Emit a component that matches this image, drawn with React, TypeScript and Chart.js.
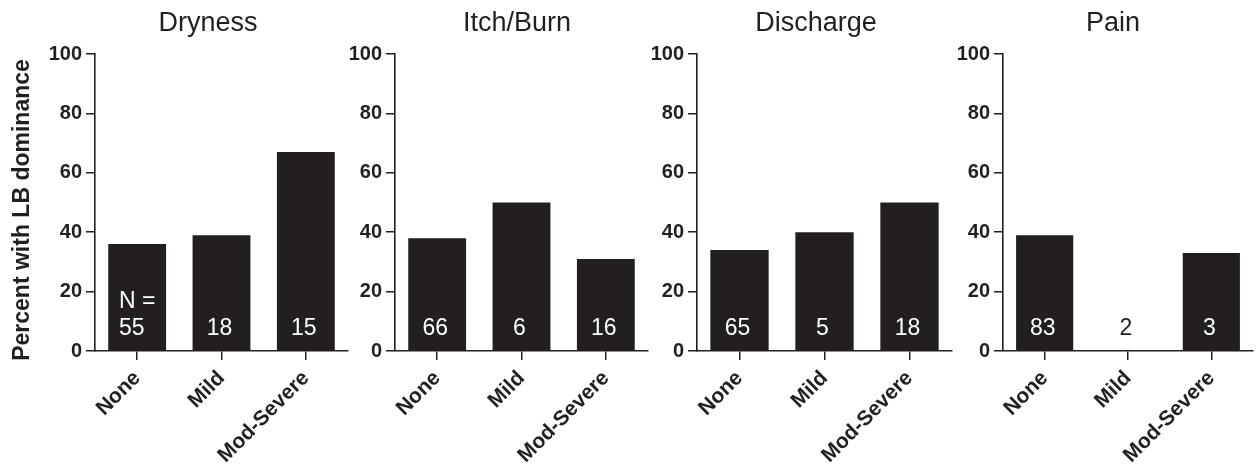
import React, { useEffect, useRef } from "react";
import { Chart, registerables } from "chart.js";

Chart.register(...registerables);

// ---- data ----
const CATEGORIES = ["None", "Mild", "Mod-Severe"];
const PANEL_TITLES = ["Dryness", "Itch/Burn", "Discharge", "Pain"];
const DRYNESS = [36, 39, 67];
const ITCH_BURN = [38, 50, 31];
const DISCHARGE = [34, 40, 50];
const PAIN = [39, 0, 33];
const N_DRYNESS = ["55", "18", "15"];
const N_ITCH_BURN = ["66", "6", "16"];
const N_DISCHARGE = ["65", "5", "18"];
const N_PAIN = ["83", "2", "3"];
const Y_TICKS = [0, 20, 40, 60, 80, 100];
const Y_TITLE = "Percent with LB dominance";
const N_PREFIX = "N =";

// ---- layout / style ----
const W = 1258;
const H = 470;
const AXIS_LEFT = [95, 395, 697, 1003];
const PLOT_W = [253, 253, 255, 250];
const TITLE_CX = [208, 517, 816, 1113];
const Y_TITLE_POS = { x: 23, y: 210 };
const PLOT_TOP = 54;
const PLOT_BOTTOM = 351;
const INK = "#231f20";
const FONT = "'Liberation Sans', Arial, Helvetica, sans-serif";

const SERIES = [DRYNESS, ITCH_BURN, DISCHARGE, PAIN];
const COUNTS = [N_DRYNESS, N_ITCH_BURN, N_DISCHARGE, N_PAIN];

function Panel({ index }: { index: number }) {
  const ref = useRef<HTMLCanvasElement | null>(null);
  const left = index === 0 ? 0 : AXIS_LEFT[index] - 70;
  const yw = AXIS_LEFT[index] - left;
  const rightPad = 4;
  const width = yw + PLOT_W[index] + rightPad;

  useEffect(() => {
    if (!ref.current) return;
    const values = SERIES[index];
    const counts = COUNTS[index];
    const annot = {
      id: "annot" + index,
      afterDatasetsDraw(chart: any) {
        const ctx = chart.ctx;
        const meta = chart.getDatasetMeta(0);
        const y0 = chart.scales.y.getPixelForValue(0);
        ctx.save();
        ctx.font = `23px ${FONT}`;
        ctx.textBaseline = "alphabetic";
        meta.data.forEach((bar: any, i: number) => {
          ctx.fillStyle = values[i] > 10 ? "#ffffff" : INK;
          if (index === 0 && i === 0) {
            const wMax = Math.max(ctx.measureText(N_PREFIX).width, ctx.measureText(counts[i]).width);
            ctx.textAlign = "left";
            ctx.fillText(N_PREFIX, bar.x - wMax / 2, y0 - 43);
            ctx.fillText(counts[i], bar.x - wMax / 2, y0 - 16);
          } else {
            ctx.textAlign = "center";
            ctx.fillText(counts[i], bar.x - 2, y0 - 16);
          }
        });
        // panel title
        ctx.textAlign = "center";
        ctx.font = `27px ${FONT}`;
        ctx.fillStyle = INK;
        ctx.fillText(PANEL_TITLES[index], TITLE_CX[index] - left, 31);
        // y-axis title (first panel only)
        if (index === 0) {
          ctx.save();
          ctx.translate(Y_TITLE_POS.x - left, Y_TITLE_POS.y);
          ctx.rotate(-Math.PI / 2);
          ctx.font = `bold 23px ${FONT}`;
          ctx.textBaseline = "middle";
          ctx.fillText(Y_TITLE, 0, 0);
          ctx.restore();
        }
        ctx.restore();
      },
    };

    const chart = new Chart(ref.current, {
      type: "bar",
      data: {
        labels: CATEGORIES,
        datasets: [
          {
            data: values,
            backgroundColor: INK,
            borderWidth: 0,
            categoryPercentage: 1,
            barPercentage: 0.686,
          },
        ],
      },
      options: {
        animation: false,
        responsive: false,
        maintainAspectRatio: false,
        layout: { padding: { top: PLOT_TOP, right: rightPad, left: 0, bottom: 0 } },
        plugins: { legend: { display: false }, tooltip: { enabled: false }, title: { display: false } },
        scales: {
          x: {
            grid: {
              offset: false,
              drawOnChartArea: false,
              drawTicks: true,
              tickLength: 9,
              color: INK,
              lineWidth: 1.5,
            },
            border: { display: true, color: INK, width: 1.6 },
            ticks: {
              autoSkip: false,
              maxRotation: 45,
              minRotation: 45,
              padding: 6,
              color: INK,
              font: { family: FONT, size: 21, weight: "bold" },
            },
            afterFit(scale: any) {
              scale.height = H - PLOT_BOTTOM;
            },
          },
          y: {
            min: 0,
            max: 100,
            afterBuildTicks(scale: any) {
              scale.ticks = Y_TICKS.map((v) => ({ value: v }));
            },
            grid: {
              drawOnChartArea: false,
              drawTicks: true,
              tickLength: 9,
              color: INK,
              lineWidth: 1.5,
            },
            border: { display: true, color: INK, width: 1.6 },
            ticks: {
              padding: 4,
              color: INK,
              font: { family: FONT, size: 20, weight: "bold" },
            },
            afterFit(scale: any) {
              scale.width = yw;
            },
          },
        },
      },
      plugins: [annot],
    } as any);
    return () => chart.destroy();
  }, [index]);

  return (
    <canvas
      ref={ref}
      width={width}
      height={H}
      style={{ position: "absolute", left, top: 0, width, height: H }}
    />
  );
}

export default function App() {
  return (
    <div
      style={{
        position: "absolute",
        left: 0,
        top: 0,
        width: W,
        height: H,
        background: "#ffffff",
        overflow: "hidden",
      }}
    >
      {[0, 1, 2, 3].map((i) => (
        <Panel key={i} index={i} />
      ))}
    </div>
  );
}
